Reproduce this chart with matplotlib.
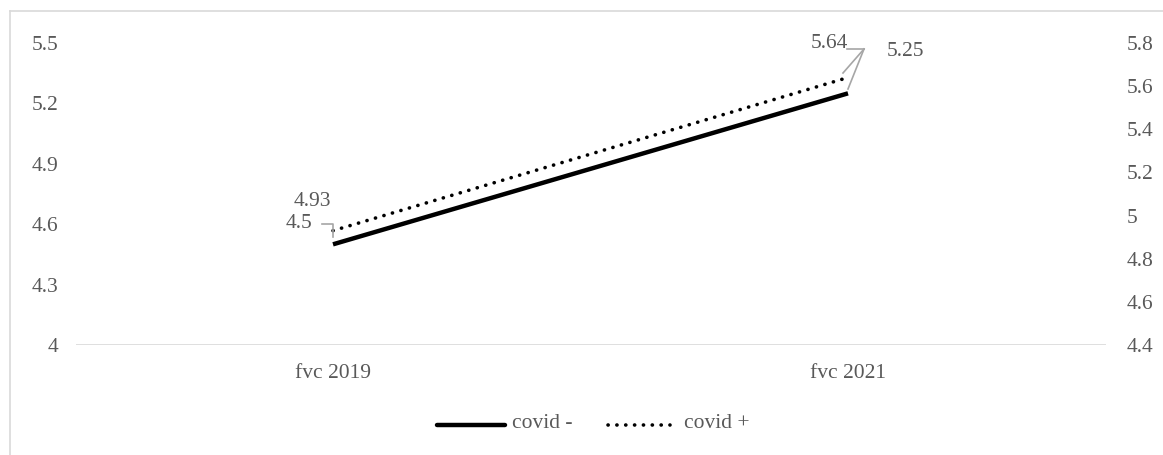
import matplotlib.pyplot as plt
from matplotlib.lines import Line2D

categories = ["fvc 2019", "fvc 2021"]
covid_neg = [4.5, 5.25]
covid_pos = [4.93, 5.64]
left_ticks = [4, 4.3, 4.6, 4.9, 5.2, 5.5]
right_ticks = [4.4, 4.6, 4.8, 5, 5.2, 5.4, 5.6, 5.8]
right_labels = ["4.4", "4.6", "4.8", "5", "5.2", "5.4", "5.6", "5.8"]

plt.rcParams['font.family'] = ['Liberation Serif', 'DejaVu Serif']
gray = '#595959'
FS = 15.5

fig = plt.figure(figsize=(11.63, 4.55), dpi=100)
ax = fig.add_axes([75.5/1163, 1-345/455, (1105.5-75.5)/1163, 302/455])
ax2 = ax.twinx()

dot = (0, (0.05, 2.4))
x = list(range(len(categories)))
ax.plot(x, covid_neg, color='black', lw=3.2, solid_capstyle='butt', zorder=3)
ax2.plot(x, covid_pos, color='black', lw=2.6, linestyle=dot,
         dash_capstyle='round', zorder=3)

ax.set_xlim(-0.5, 1.5)
ax.set_ylim(4, 5.5)
ax2.set_ylim(4.4, 5.8)
ax.set_yticks(left_ticks)
ax.set_yticklabels([f"{v:g}" for v in left_ticks])
ax2.set_yticks(right_ticks)
ax2.set_yticklabels(right_labels)
ax.set_xticks(x)
ax.set_xticklabels(categories)

for a in (ax, ax2):
    for s in a.spines.values():
        s.set_visible(False)
    a.tick_params(length=0, labelsize=FS, colors=gray)
ax.tick_params(axis='y', pad=12.5)
ax2.tick_params(axis='y', pad=15)
ax.tick_params(axis='x', pad=14)
ax.axhline(4, color='#d9d9d9', lw=1.2, zorder=1)

def fx(px):
    return px/1163
def fy(py):
    return 1-py/455

lc = '#a6a6a6'
fig.text(fx(312), fy(201), f"{covid_pos[0]:g}", ha='center', va='center', fontsize=FS, color=gray)
fig.text(fx(299), fy(223), f"{covid_neg[0]:g}", ha='center', va='center', fontsize=FS, color=gray)
fig.add_artist(Line2D([fx(322), fx(333), fx(333)], [fy(224), fy(224), fy(237)], color=lc, lw=1.2))
fig.text(fx(829), fy(43), f"{covid_pos[1]:g}", ha='center', va='center', fontsize=FS, color=gray)
fig.text(fx(905), fy(51), f"{covid_neg[1]:g}", ha='center', va='center', fontsize=FS, color=gray)
fig.add_artist(Line2D([fx(847), fx(864)], [fy(49), fy(49)], color=lc, lw=1.2))
fig.add_artist(Line2D([fx(848), fx(864)], [fy(89), fy(49)], color=lc, lw=1.2))
fig.add_artist(Line2D([fx(843), fx(864)], [fy(73), fy(49)], color=lc, lw=1.2))

# legend
fig.add_artist(Line2D([fx(437), fx(505)], [fy(425), fy(425)], color='black', lw=3.2, solid_capstyle='round'))
fig.text(fx(512), fy(424), "covid -", ha='left', va='center', fontsize=FS, color=gray)
fig.add_artist(Line2D([fx(608), fx(670)], [fy(425), fy(425)], color='black', lw=2.6,
                      linestyle=dot, dash_capstyle='round'))
fig.text(fx(684), fy(424), "covid +", ha='left', va='center', fontsize=FS, color=gray)

# chart border
bc = '#d9d9d9'
fig.add_artist(Line2D([fx(9.5), fx(1163)], [fy(11), fy(11)], color=bc, lw=1.2))
fig.add_artist(Line2D([fx(9.5), fx(9.5)], [fy(11), fy(455)], color=bc, lw=1.2))

fig.savefig('out.png', dpi=100)
